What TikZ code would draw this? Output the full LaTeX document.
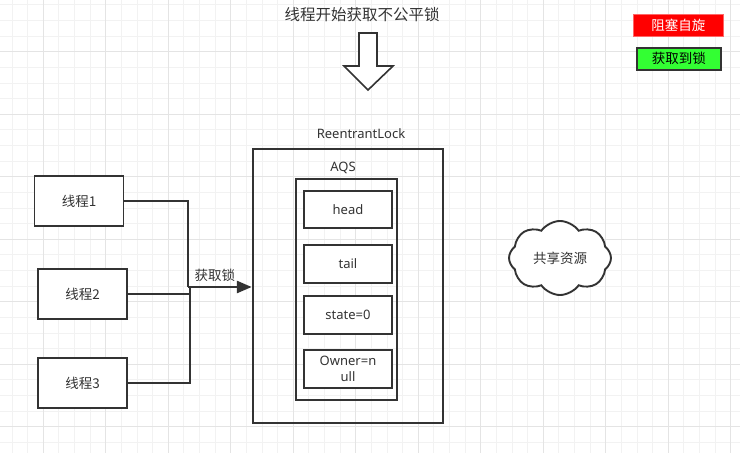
\documentclass[tikz,border=0pt]{standalone}
\usepackage{fontspec}
\setmainfont{Noto Sans}
\newfontfamily\cjk{Noto Sans CJK SC}
\usepackage{xcolor}
\usepackage{tikz}
\usetikzlibrary{arrows.meta, positioning, shapes.symbols}
\definecolor{linegray}{RGB}{51,51,51}
\definecolor{gridminor}{RGB}{242,242,242}
\definecolor{gridmajor}{RGB}{228,228,228}
\definecolor{blockred}{RGB}{255,0,0}
\definecolor{lockgreen}{RGB}{51,255,51}

\begin{document}
\begin{tikzpicture}[
    x=1pt, y=-1pt,
    box/.style={draw=linegray, line width=1.9pt, fill=white, minimum width=88pt, minimum height=37.5pt, text=linegray, font=\fontsize{13}{16}\selectfont, inner sep=1pt},
    thread/.style={box, minimum width=89pt, minimum height=50pt},
    frame/.style={draw=linegray, line width=1.9pt},
    link/.style={draw=linegray, line width=1.6pt},
    arrow/.style={draw=linegray, line width=2.8pt, -{Triangle[length=15pt, width=12pt]}},
    label/.style={text=linegray, font=\fontsize{13}{16}\selectfont, inner sep=1pt},
    legend/.style={minimum width=88pt, minimum height=22pt, inner sep=1pt, font=\cjk\fontsize{13.5}{16}\selectfont}
]
    \useasboundingbox (0,0) rectangle (740,453);
    \fill[white] (0,0) rectangle (740,453);

    % Grid
    \foreach \i in {0,...,46}
        \draw[gridminor, line width=1pt] ({12.05+15.625*\i},0) -- ++(0,453);
    \foreach \i in {0,...,29}
        \draw[gridminor, line width=1pt] (0,{4.9+15.625*\i}) -- ++(740,0);
    \foreach \i in {0,...,11}
        \draw[gridmajor, line width=1pt] ({43.3+62.5*\i},0) -- ++(0,453);
    \foreach \i in {0,...,6}
        \draw[gridmajor, line width=1pt] (0,{51.7+62.5*\i}) -- ++(740,0);

    % Title and big arrow
    \node[label, font=\cjk\fontsize{15.5}{18}\selectfont] (title) at (362,15) {线程开始获取不公平锁};
    \draw[frame, fill=white, line width=1.6pt, line join=miter]
        (359,33) -- (377,33) -- (377,66) -- (393,66) -- (368,90) -- (344,66) -- (359,66) -- cycle;

    % Legend
    \node[legend, fill=blockred, draw=blockred!60, line width=0.8pt, minimum width=90pt, text=white] (spin) at (678.3,25) {阻塞自旋};
    \node[legend, fill=lockgreen, draw=linegray, line width=1.9pt, minimum width=84pt, text=black] (got) at (678.8,58.8) {获取到锁};

    % ReentrantLock and AQS
    \node[frame, minimum width=190.6pt, minimum height=274.3pt] (lock) at (348,286.2) {};
    \node[label] at (361,134) {ReentrantLock};
    \node[frame, minimum width=100.7pt, minimum height=220.7pt] (aqs) at (346.3,289.7) {};
    \node[label] at (343,168) {AQS};
    \node[box] (head) at (348,209.5) {head};
    \node[box] (tail) at (348,264) {tail};
    \node[box] (state) at (348,315) {state=0};
    \node[box, align=center, font=\fontsize{13}{16.3}\selectfont] (owner) at (348,369) {Owner=n\\ull};

    % Threads
    \node[thread, font=\cjk\fontsize{13.5}{16}\selectfont] (t1) at (79,201) {线程1};
    \node[thread, font=\cjk\fontsize{13.5}{16}\selectfont] (t2) at (82.5,294) {线程2};
    \node[thread, font=\cjk\fontsize{13.5}{16}\selectfont] (t3) at (82.5,383) {线程3};

    % Shared resource
    \node[cloud, cloud puffs=8, cloud puff arc=110, aspect=1.4, draw=linegray, line width=1.9pt, fill=white, minimum width=102pt, minimum height=74pt, text=linegray, font=\cjk\fontsize{13.5}{16}\selectfont] (res) at (560,258) {共享资源};

    % Connectors
    \coordinate (j1) at (188,287);
    \coordinate (j2) at (190,287);
    \draw[link] (t1.east) -| (j1);
    \draw[link] (t2.east) -- (t2.east -| j2);
    \draw[link] (t3.east) -| (j2);
    \draw[arrow] (j1) -- (j1 -| lock.west) node[label, pos=0.42, above=3pt, font=\cjk\fontsize{13.5}{16}\selectfont] {获取锁};
\end{tikzpicture}
\end{document}
